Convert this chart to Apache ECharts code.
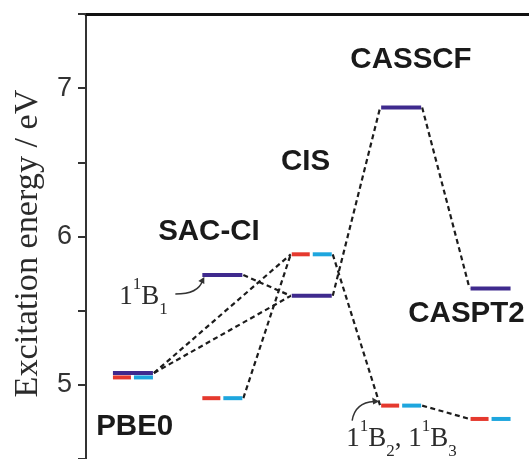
<!DOCTYPE html>
<html><head><meta charset="utf-8">
<script src="https://cdn.jsdelivr.net/npm/echarts@6/dist/echarts.min.js"></script>
<style>html,body{margin:0;padding:0;background:#fff}#c{width:529px;height:459px}</style>
</head><body><div id="c"></div>
<script>
// ---- data ----
const methods = ['PBE0', 'SAC-CI', 'CIS', 'CASSCF', 'CASPT2'];
const b1Energy = [5.08, 5.74, 5.60, 6.87, 5.65];   // 1 1B1 (purple)
const b2Energy = [5.05, 4.91, 5.88, 4.86, 4.77];   // 1 1B2 (red)
const b3Energy = [5.05, 4.91, 5.88, 4.86, 4.77];   // 1 1B3 (blue)
const yTickLabels = ['5', '6', '7'];
const yTitle = 'Excitation energy / eV';
// correlation lines: [fromMethod, fromState, toMethod, toState]
const links = [
  [0, 'b1', 2, 'b2'], [0, 'b1', 2, 'b1'],
  [1, 'b1', 2, 'b1'], [1, 'b2', 2, 'b2'],
  [2, 'b1', 3, 'b1'], [2, 'b2', 3, 'b2'],
  [3, 'b1', 4, 'b1'], [3, 'b2', 4, 'b2']
];

// ---- styles / layout ----
const COL = { b1: '#3f2a8e', b2: '#e5392e', b3: '#1ea6de' };
const HALF = 20;
const stateE = { b1: b1Energy, b2: b2Energy, b3: b3Energy };

const barData = [];
methods.forEach((m, i) => {
  barData.push([i, b2Energy[i], 1]);
  barData.push([i, b3Energy[i], 2]);
  barData.push([i, b1Energy[i], 0]);
});
const linkData = links.map(l => [l[0], stateE[l[1]][l[0]], l[2], stateE[l[3]][l[2]]]);

const chart = echarts.init(document.getElementById('c'), null, { renderer: 'canvas' });
const option = {
  backgroundColor: '#ffffff',
  animation: false,
  grid: { left: 86, right: 0, top: 14, bottom: -5 },
  xAxis: {
    type: 'value', min: -0.525, max: 4.43, position: 'top',
    axisLine: { show: true, onZero: false, lineStyle: { color: '#111', width: 3 } },
    axisTick: { show: false }, axisLabel: { show: false }, splitLine: { show: false }
  },
  yAxis: {
    type: 'value', min: 4.5, max: 7.5, interval: 0.5, position: 'left',
    axisLine: { show: true, onZero: false, lineStyle: { color: '#333', width: 2 } },
    axisTick: { show: true, inside: false, length: 8, lineStyle: { color: '#333', width: 2 } },
    axisLabel: {
      margin: 14, fontFamily: 'Liberation Sans', fontSize: 27, color: '#333',
      formatter: v => (Number.isInteger(v) && yTickLabels.includes(String(v))) ? String(v) : ''
    },
    splitLine: { show: false }
  },
  series: [
    {
      type: 'custom', name: 'links', clip: false, z: 2,
      data: linkData,
      renderItem: (params, api) => {
        const p0 = api.coord([api.value(0), api.value(1)]);
        const p1 = api.coord([api.value(2), api.value(3)]);
        return {
          type: 'line',
          shape: { x1: p0[0] + HALF + 1, y1: p0[1], x2: p1[0] - HALF - 1, y2: p1[1] },
          style: { stroke: '#1c1c1c', lineWidth: 2.2, lineDash: [5, 3.5] }
        };
      }
    },
    {
      type: 'custom', name: 'levels', clip: false, z: 3,
      data: barData,
      renderItem: (params, api) => {
        const p = api.coord([api.value(0), api.value(1)]);
        const k = api.value(2);
        const ext = k === 0 ? [-HALF, HALF] : (k === 1 ? [-HALF, -2] : [1, HALF]);
        const fill = k === 0 ? COL.b1 : (k === 1 ? COL.b2 : COL.b3);
        return {
          type: 'rect',
          shape: { x: p[0] + ext[0], y: p[1] - 2, width: ext[1] - ext[0], height: 4 },
          style: { fill: fill }
        };
      }
    }
  ]
};
chart.setOption(option);

// ---- annotations anchored to data coordinates ----
const px = (x, y) => chart.convertToPixel({ gridIndex: 0 }, [x, y]);
const methodLabelAnchor = [[0.02, 4.72, 'center'], [0.85, 6.03, 'center'], [1.93, 6.50, 'center'], [3.11, 7.19, 'center'], [3.08, 5.48, 'left']];
const graphics = [];
// axis title
const tMid = px(0, 6.0);
graphics.push({
  type: 'text', x: 28, y: tMid[1] + 7, rotation: Math.PI / 2, z: 10,
  style: { text: yTitle, fontFamily: 'Liberation Serif', fontSize: 34.2, fill: '#2b2b2b', textAlign: 'center', textVerticalAlign: 'middle' }
});
methods.forEach((m, i) => {
  const a = methodLabelAnchor[i];
  const p = px(a[0], a[1]);
  graphics.push({
    type: 'text', x: p[0], y: p[1], z: 10,
    style: { text: m, fontFamily: 'Liberation Sans', fontWeight: 'bold', fontSize: 29.5, fill: '#1a1a1a', textAlign: a[2], textVerticalAlign: 'middle' }
  });
});
const rich = {
  m: { fontFamily: 'Liberation Serif', fontSize: 27, lineHeight: 42, verticalAlign: 'middle', fill: '#2b2b2b', color: '#2b2b2b' },
  s: { fontFamily: 'Liberation Serif', fontSize: 17, lineHeight: 17, verticalAlign: 'top', fill: '#2b2b2b', color: '#2b2b2b' },
  u: { fontFamily: 'Liberation Serif', fontSize: 17, lineHeight: 17, verticalAlign: 'bottom', fill: '#2b2b2b', color: '#2b2b2b' }
};
// 1 1B1 label pointing at SAC-CI B1 level
const sB1 = px(1, b1Energy[1]);
const sL = [sB1[0] - HALF, sB1[1]];
graphics.push({
  type: 'text', x: sL[0] - 83, y: sL[1] + 22, z: 10,
  style: { text: '{m|1}{s|1}{m|B}{u|1}', rich: rich, textAlign: 'left', textVerticalAlign: 'middle' }
});
graphics.push({
  type: 'bezierCurve', z: 10,
  shape: { x1: sL[0] - 27, y1: sL[1] + 19, cpx1: sL[0] - 4, cpy1: sL[1] + 19, x2: sL[0] + 0, y2: sL[1] + 6 },
  style: { stroke: '#333', lineWidth: 1.5, fill: null }
});
graphics.push({
  type: 'polygon', z: 10,
  shape: { points: [[sL[0] + 2, sL[1] + 2], [sL[0] - 4, sL[1] + 6], [sL[0] + 2, sL[1] + 9]] },
  style: { fill: '#333' }
});
// 1 1B2, 1 1B3 label pointing at CASSCF B2 level
const cB2 = px(3, b2Energy[3]);
const cL = [cB2[0] - HALF, cB2[1]];
graphics.push({
  type: 'text', x: cL[0] - 35, y: cL[1] + 33, z: 10,
  style: { text: '{m|1}{s|1}{m|B}{u|2}{m|, 1}{s|1}{m|B}{u|3}', rich: rich, textAlign: 'left', textVerticalAlign: 'middle' }
});
graphics.push({
  type: 'bezierCurve', z: 10,
  shape: { x1: cL[0] - 29, y1: cL[1] + 15, cpx1: cL[0] - 26, cpy1: cL[1] - 3, x2: cL[0] - 7, y2: cL[1] - 4 },
  style: { stroke: '#333', lineWidth: 1.5, fill: null }
});
graphics.push({
  type: 'polygon', z: 10,
  shape: { points: [[cL[0] - 2, cL[1] - 4], [cL[0] - 9, cL[1] - 8], [cL[0] - 8, cL[1] - 1]] },
  style: { fill: '#333' }
});
chart.setOption({ graphic: graphics });
</script>
</body></html>
